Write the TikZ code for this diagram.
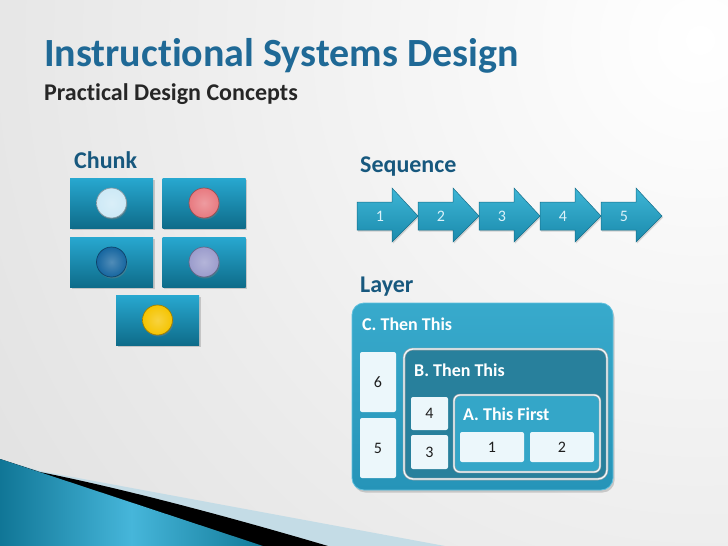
\documentclass[tikz,border=0pt]{standalone}
\usepackage{fontspec}
\setmainfont{Carlito}[Ligatures={NoCommon}]
\usetikzlibrary{shadows}
\definecolor{bggray}{RGB}{208,208,208}
\definecolor{titleblue}{RGB}{31,105,150}
\definecolor{headblue}{RGB}{23,88,126}
\definecolor{subblack}{RGB}{38,38,38}
\definecolor{chunktop}{RGB}{40,168,208}
\definecolor{chunkbot}{RGB}{14,108,138}
\definecolor{arrtop}{RGB}{62,182,214}
\definecolor{arrbot}{RGB}{26,138,172}
\definecolor{arredge}{RGB}{22,110,138}
\definecolor{ctop}{RGB}{56,170,204}
\definecolor{cbot}{RGB}{38,148,184}
\definecolor{bfill}{RGB}{40,128,156}
\definecolor{afill}{RGB}{52,166,200}
\definecolor{cellfill}{RGB}{236,247,251}
\definecolor{numtext}{RGB}{30,30,30}
\definecolor{seqtext}{RGB}{220,242,250}
\definecolor{dotA}{RGB}{205,233,246}
\definecolor{dotB}{RGB}{232,122,128}
\definecolor{dotC}{RGB}{22,102,160}
\definecolor{dotD}{RGB}{155,156,204}
\definecolor{dotE}{RGB}{245,196,0}
\definecolor{lightband}{RGB}{196,220,230}
\definecolor{tealL}{RGB}{16,118,150}
\definecolor{tealM}{RGB}{70,182,218}
\definecolor{tealR}{RGB}{18,122,152}
\tikzset{
  chunkbox/.style={rectangle, minimum width=83pt, minimum height=50pt, inner sep=0pt,
    top color=chunktop, bottom color=chunkbot,
    drop shadow={opacity=0.35, shadow xshift=1.5pt, shadow yshift=-2pt}},
  dot/.style={circle, minimum size=30pt, inner sep=0pt, draw=#1!65!black, line width=0.7pt,
    inner color=#1!75!white, outer color=#1,
    drop shadow={opacity=0.4, shadow xshift=1pt, shadow yshift=-1.5pt}},
  seqarrow/.style={top color=arrtop, bottom color=arrbot, draw=arredge, line width=0.5pt,
    drop shadow={opacity=0.3, shadow xshift=1pt, shadow yshift=-1.5pt}},
  seqnum/.style={inner sep=0pt, text=seqtext, font=\fontsize{16}{18}\selectfont},
  heading/.style={anchor=base west, inner sep=0pt, text=headblue, font=\fontsize{24}{28}\selectfont\bfseries},
  layerlabel/.style={anchor=base west, inner sep=0pt, text=white, font=\fontsize{18}{21}\selectfont\bfseries},
  cell/.style={rectangle, rounded corners=2pt, fill=cellfill, inner sep=0pt, text=numtext,
    font=\fontsize{16}{18}\selectfont},
  cbox/.style={rectangle, rounded corners=12pt, inner sep=0pt, top color=ctop, bottom color=cbot,
    draw={rgb,255:red,95;green,192;blue,222}, line width=0.8pt,
    drop shadow={opacity=0.35, shadow xshift=1.5pt, shadow yshift=-2.5pt}},
  bbox/.style={rectangle, rounded corners=9pt, inner sep=0pt, fill=bfill,
    draw=gray!70, double=white!92!cyan, double distance=1.3pt, line width=0.6pt},
  abox/.style={rectangle, rounded corners=6pt, inner sep=0pt, fill=afill,
    draw=gray!70, double=white!92!cyan, double distance=1.2pt, line width=0.6pt},
}
\begin{document}
\begin{tikzpicture}[x=1pt,y=-1pt]
\useasboundingbox (0,0) rectangle (728,546);
% background
\begin{scope}
\clip (0,0) rectangle (728,546);
\fill[bggray] (0,0) rectangle (728,546);
\shade[inner color=white, outer color=bggray] (700,40) circle (1350pt);
% bottom-left decoration
\fill[lightband] (0,459) -- (40,471) -- (445,546) -- (0,546) -- cycle;
\fill[black] (0,459) -- (40,472) .. controls (130,490) and (240,520) .. (328,546) -- (0,546) -- cycle;
\shade[left color=tealL, right color=tealR, middle color=tealM]
  (0,459) -- (263,546) -- (0,546) -- cycle;
\end{scope}
% titles
\node[anchor=base west, inner sep=0pt, text=titleblue, font=\fontsize{40}{46}\selectfont\bfseries]
  (title) at (44,66) {Instructional Systems Design};
\node[anchor=base west, inner sep=0pt, text=subblack, font=\fontsize{24}{28}\selectfont\bfseries]
  (subtitle) at (44,100) {Practical Design Concepts};
% Chunk
\node[heading] (chunk) at (74,168) {Chunk};
\node[chunkbox] (b1) at (111.5,203) {};
\node[chunkbox] (b2) at (204,203) {};
\node[chunkbox] (b3) at (111.5,262) {};
\node[chunkbox] (b4) at (204,262) {};
\node[chunkbox] (b5) at (157.5,320) {};
\node[dot=dotA] (d1) at (b1.center) {};
\node[dot=dotB] (d2) at (b2.center) {};
\node[dot=dotC] (d3) at (b3.center) {};
\node[dot=dotD] (d4) at (b4.center) {};
\node[dot=dotE] (d5) at (b5.center) {};
% Sequence
\node[heading] (sequence) at (360,172) {Sequence};
\foreach \i in {1,...,5}{
  \pgfmathsetmacro{\xo}{357+(\i-1)*61}
  \path[seqarrow] (\xo,202) -- ({\xo+35},202) -- ({\xo+35},188) -- ({\xo+61},216)
     -- ({\xo+35},242) -- ({\xo+35},230) -- (\xo,230) -- cycle;
  \node[seqnum] (s\i) at ({\xo+23},216) {\i};
}
% Layer
\node[heading] (layer) at (360,292) {Layer};
\node[cbox, minimum width=261pt, minimum height=187pt] (C) at (482.5,396.5) {};
\node[layerlabel] (Clab) at (362,330) {C. Then This};
\node[cell, minimum width=36pt, minimum height=60pt] (c6) at (378,382) {6};
\node[cell, minimum width=36pt, minimum height=60pt] (c5) at (378,448) {5};
\node[bbox, minimum width=203pt, minimum height=130pt] (B) at (505.5,414) {};
\node[layerlabel] (Blab) at (414,376) {B. Then This};
\node[cell, minimum width=37pt, minimum height=33pt] (c4) at (429.5,413.5) {4};
\node[cell, minimum width=37pt, minimum height=34pt] (c3) at (429.5,452) {3};
\node[abox, minimum width=146pt, minimum height=77pt] (A) at (527,433.5) {};
\node[layerlabel] (Alab) at (463,420) {A. This First};
\node[cell, minimum width=64pt, minimum height=30pt] (c1) at (492,447) {1};
\node[cell, minimum width=64pt, minimum height=30pt] (c2) at (562,447) {2};
\end{tikzpicture}
\end{document}
